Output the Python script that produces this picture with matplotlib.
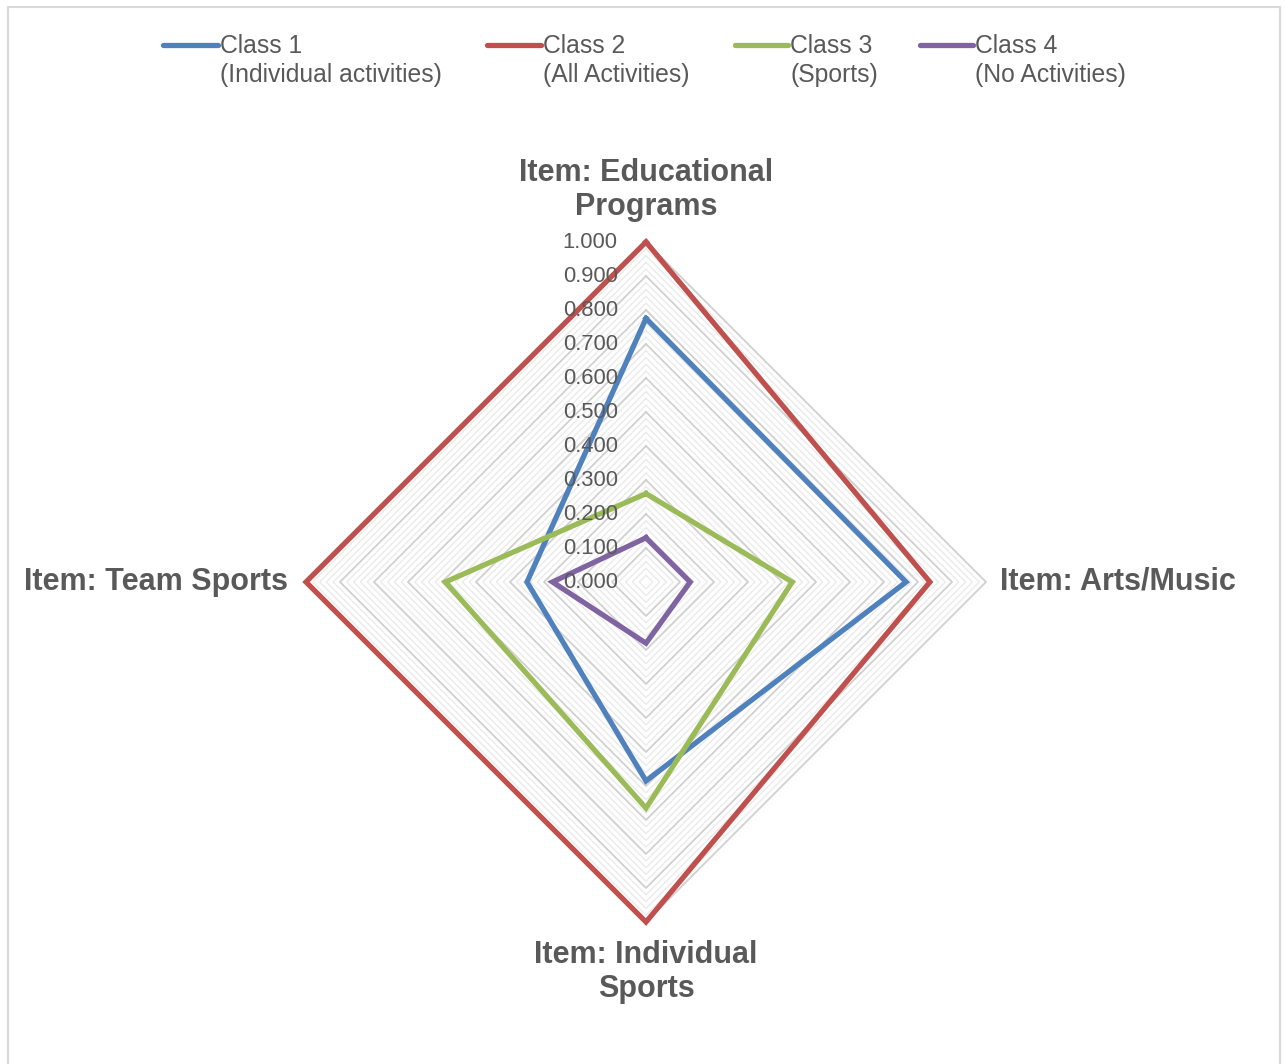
import numpy as np
import matplotlib.pyplot as plt
from matplotlib.lines import Line2D
from matplotlib.patches import Rectangle

plt.rcParams['font.family'] = ['Liberation Sans', 'DejaVu Sans']

# axes go clockwise from the top
categories = ["Item: Educational\nPrograms", "Item: Arts/Music",
              "Item: Individual\nSports", "Item: Team Sports"]
class_names = ["Class 1", "Class 2", "Class 3", "Class 4"]
class_desc = ["(Individual activities)", "(All Activities)", "(Sports)", "(No Activities)"]
class1 = [0.775, 0.765, 0.585, 0.350]
class2 = [1.000, 0.835, 1.000, 1.000]
class3 = [0.260, 0.430, 0.665, 0.590]
class4 = [0.130, 0.130, 0.180, 0.275]
tick_values = [0.0, 0.1, 0.2, 0.3, 0.4, 0.5, 0.6, 0.7, 0.8, 0.9, 1.0]

series = [class1, class2, class3, class4]
colors = ["#4F81BD", "#C0504D", "#9BBB59", "#8064A2"]
text_col = "#595959"

W, H = 1285, 1064
fig = plt.figure(figsize=(W / 100, H / 100), dpi=100)

# axes placed so the centre sits at (646, 582) px and r=1 is 340 px
R = 340
cx, cy = 646, H - 582
span = 1.2
ax = fig.add_axes([(cx - span * R) / W, (cy - span * R) / H, 2 * span * R / W, 2 * span * R / H])
ax.set_xlim(-span, span)
ax.set_ylim(-span, span)
ax.set_aspect('equal')
ax.axis('off')

angles = np.pi / 2 - np.arange(len(categories)) * np.pi / 2
ca, sa = np.cos(angles), np.sin(angles)

def ring(vals):
    v = np.asarray(vals, dtype=float)
    x = np.append(v * ca, v[0] * ca[0])
    y = np.append(v * sa, v[0] * sa[0])
    return x, y

# grid: minor every 0.02, major every 0.1
for r in np.arange(0.02, 1.0001, 0.02):
    major = abs(r * 10 - round(r * 10)) < 1e-6
    gx, gy = ring([r] * len(categories))
    ax.plot(gx, gy, color="#D0D0D0" if major else "#EBEBEB",
            lw=1.3 if major else 1.0, zorder=1)

for vals, col in zip(series, colors):
    x, y = ring(vals)
    ax.plot(x, y, color=col, lw=3.8, solid_joinstyle='miter', zorder=3)

for t in tick_values:
    ax.text(-0.083, t, f"{t:.3f}", ha='right', va='center', fontsize=15.8,
            color=text_col, zorder=4)

label_kw = dict(fontsize=22, fontweight='bold', color=text_col, clip_on=False,
                linespacing=1.15)
ax.text(0, 1.153, categories[0], ha='center', va='center', **label_kw)
ax.text(1.04, 0, categories[1], ha='left', va='center', **label_kw)
ax.text(0, -1.147, categories[2], ha='center', va='center', **label_kw)
ax.text(-1.053, 0, categories[3], ha='right', va='center', **label_kw)

# legend across the top
handle_x = [(163, 218), (487, 541), (735, 788), (920, 973)]
text_x = [220, 543, 790, 975]
for (x0, x1), tx, col, name, desc in zip(handle_x, text_x, colors, class_names, class_desc):
    fig.add_artist(Line2D([x0 / W, x1 / W], [1 - 45 / H, 1 - 45 / H], color=col,
                          lw=3.8, solid_capstyle='round', transform=fig.transFigure))
    fig.text(tx / W, 1 - 46 / H, name, ha='left', va='center', fontsize=17.8, color=text_col)
    fig.text(tx / W, 1 - 75 / H, desc, ha='left', va='center', fontsize=17.8, color=text_col)

fig.add_artist(Rectangle((8 / W, -0.01), (1280 - 8) / W, 1 - 7 / H + 0.01,
                         transform=fig.transFigure, fill=False, edgecolor="#D9D9D9", lw=1.5))

fig.savefig("out.png", dpi=100)
